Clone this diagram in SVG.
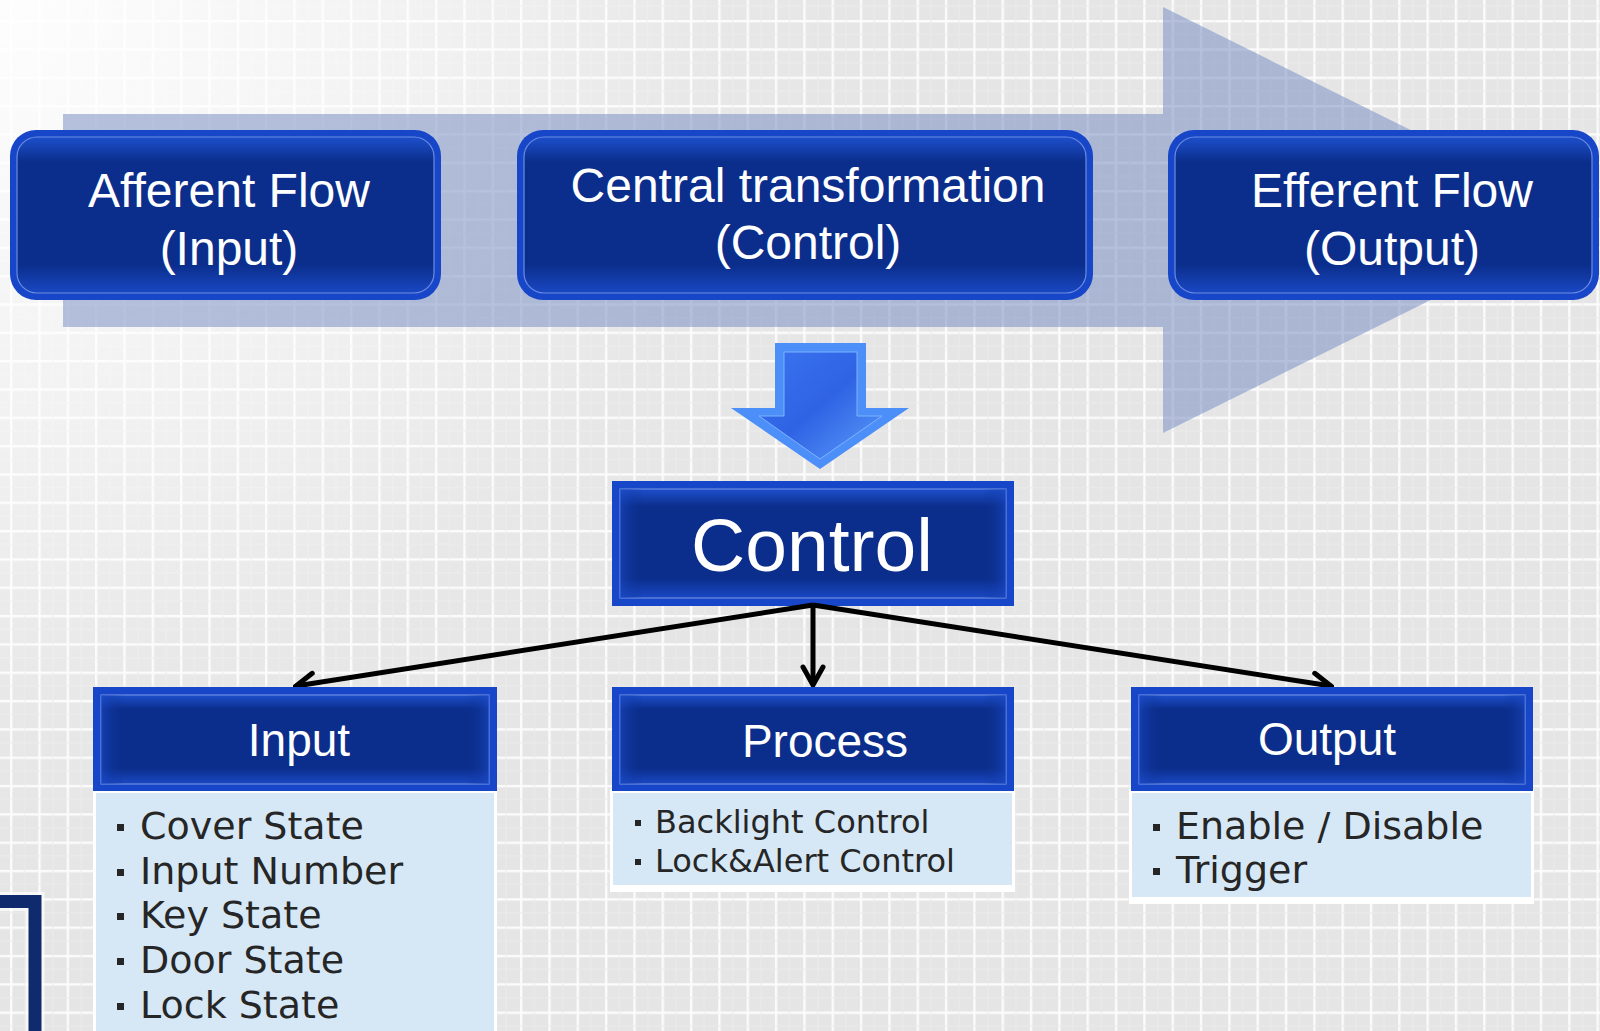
<svg xmlns="http://www.w3.org/2000/svg" width="1600" height="1031" viewBox="0 0 1600 1031">
<defs>
<style>
.rim{fill:#1846c8}
.inner{fill:url(#bev);stroke:#6b8de0;stroke-width:1.2}
.ttl{font-family:"Liberation Sans",Arial,sans-serif;fill:#ffffff;text-anchor:middle}
.big{font-size:48px}
.hdr{font-size:46px}
.lst{font-family:"DejaVu Sans",Verdana,sans-serif;fill:#262626}
.l37{font-size:38px}
.l31{font-size:32px}
.bul{fill:#262626}
.lframe{fill:#ffffff}
.lfill{fill:#d6e8f6}
.conn{fill:none;stroke:#000;stroke-width:5}
</style>
<pattern id="grid" width="28.33" height="28.33" patternUnits="userSpaceOnUse" x="10" y="20">
<rect width="28.33" height="28.33" fill="#e5e5e5"/>
<rect x="0" y="0" width="28.33" height="2.4" fill="#fbfbfb"/>
<rect x="0" y="0" width="2.4" height="28.33" fill="#fbfbfb"/>
<rect x="14" y="0" width="1" height="28.33" fill="#ececec"/>
<rect x="0" y="14" width="28.33" height="1" fill="#ececec"/>
</pattern>
<radialGradient id="glow" cx="0" cy="0" r="950" gradientUnits="userSpaceOnUse">
<stop offset="0" stop-color="#ffffff" stop-opacity="0.95"/>
<stop offset="0.35" stop-color="#ffffff" stop-opacity="0.6"/>
<stop offset="0.75" stop-color="#ffffff" stop-opacity="0.1"/>
<stop offset="1" stop-color="#ffffff" stop-opacity="0"/>
</radialGradient>
<linearGradient id="bev" x1="0" y1="0" x2="0" y2="1">
<stop offset="0" stop-color="#1d4fcc"/>
<stop offset="0.16" stop-color="#0b2e8c"/>
<stop offset="0.82" stop-color="#0b2e8c"/>
<stop offset="1" stop-color="#1a48c4"/>
</linearGradient>
<linearGradient id="side" x1="0" y1="0" x2="1" y2="0">
<stop offset="0" stop-color="#1b4ac8" stop-opacity="0.6"/>
<stop offset="0.06" stop-color="#0b2e8c" stop-opacity="0"/>
<stop offset="0.94" stop-color="#0b2e8c" stop-opacity="0"/>
<stop offset="1" stop-color="#1b4ac8" stop-opacity="0.6"/>
</linearGradient>
<linearGradient id="arr" x1="0" y1="0" x2="1" y2="1">
<stop offset="0" stop-color="#3a74f0"/>
<stop offset="0.5" stop-color="#2f63e4"/>
<stop offset="1" stop-color="#5a9cfa"/>
</linearGradient>
<marker id="open" viewBox="0 0 24 26" refX="21" refY="13" markerWidth="24" markerHeight="26" markerUnits="userSpaceOnUse" orient="auto">
<path d="M3,3 L21,13 L3,23" fill="none" stroke="#000" stroke-width="5" stroke-linecap="round" stroke-linejoin="miter"/>
</marker>
</defs>

<rect width="1600" height="1031" fill="url(#grid)"/>
<rect width="1600" height="1031" fill="url(#glow)"/>

<g id="flow-band">
<polygon points="63,114 1163,114 1163,7 1592,220 1163,433 1163,327 63,327" fill="#7b8fc4" fill-opacity="0.55"/>
</g>

<g id="afferent">
<rect class="rim" x="10" y="130" width="431" height="170" rx="26"/>
<rect class="inner" x="17" y="137" width="417" height="156" rx="20"/>
<text class="ttl big" x="229" y="207">Afferent Flow</text>
<text class="ttl big" x="229" y="265">(Input)</text>
</g>

<g id="central">
<rect class="rim" x="517" y="130" width="576" height="170" rx="26"/>
<rect class="inner" x="524" y="137" width="562" height="156" rx="20"/>
<text class="ttl big" x="808" y="202">Central transformation</text>
<text class="ttl big" x="808" y="259">(Control)</text>
</g>

<g id="efferent">
<rect class="rim" x="1168" y="130" width="431" height="170" rx="26"/>
<rect class="inner" x="1175" y="137" width="417" height="156" rx="20"/>
<text class="ttl big" x="1392" y="207">Efferent Flow</text>
<text class="ttl big" x="1392" y="265">(Output)</text>
</g>

<g id="down-arrow">
<polygon points="775,343 866,343 866,408 909,408 820,469 731,408 775,408" fill="#4d8ff8"/>
<polygon points="784,352 857,352 857,416 882,416 820,459 759,416 784,416" fill="url(#arr)" stroke="#7fb2ff" stroke-width="1"/>
</g>

<g id="control">
<rect class="rim" x="612" y="481" width="402" height="125"/>
<rect class="inner" x="620" y="489" width="386" height="109"/>
<rect x="620" y="489" width="386" height="109" fill="url(#side)"/>
<text class="ttl" x="812" y="571" font-size="75">Control</text>
</g>

<g id="connectors">
<line class="conn" x1="813" y1="605" x2="296" y2="686" marker-end="url(#open)"/>
<line class="conn" x1="813" y1="605" x2="813" y2="685" marker-end="url(#open)"/>
<line class="conn" x1="813" y1="605" x2="1331" y2="686" marker-end="url(#open)"/>
</g>

<g id="input">
<rect class="lframe" x="93" y="789" width="404" height="245"/>
<rect class="lfill" x="96" y="793" width="398" height="240"/>
<rect class="rim" x="93" y="687" width="404" height="104"/>
<rect class="inner" x="101" y="695" width="388" height="89"/>
<rect x="101" y="695" width="388" height="89" fill="url(#side)"/>
<text class="ttl hdr" x="299" y="756">Input</text>
<rect class="bul" x="117" y="824" width="7" height="7"/>
<rect class="bul" x="117" y="869" width="7" height="7"/>
<rect class="bul" x="117" y="913" width="7" height="7"/>
<rect class="bul" x="117" y="958" width="7" height="7"/>
<rect class="bul" x="117" y="1003" width="7" height="7"/>
<text class="lst l37" x="140" y="839">Cover State</text>
<text class="lst l37" x="140" y="884">Input Number</text>
<text class="lst l37" x="140" y="928">Key State</text>
<text class="lst l37" x="140" y="973">Door State</text>
<text class="lst l37" x="140" y="1018">Lock State</text>
</g>

<g id="process">
<rect class="lframe" x="610" y="789" width="405" height="103"/>
<rect class="lfill" x="613" y="793" width="399" height="92"/>
<rect class="rim" x="612" y="687" width="402" height="104"/>
<rect class="inner" x="620" y="695" width="386" height="89"/>
<rect x="620" y="695" width="386" height="89" fill="url(#side)"/>
<text class="ttl hdr" x="825" y="757">Process</text>
<rect class="bul" x="635" y="820" width="6" height="6"/>
<rect class="bul" x="635" y="859" width="6" height="6"/>
<text class="lst l31" x="655" y="833">Backlight Control</text>
<text class="lst l31" x="655" y="872">Lock&amp;Alert Control</text>
</g>

<g id="output">
<rect class="lframe" x="1129" y="789" width="405" height="115"/>
<rect class="lfill" x="1132" y="793" width="399" height="104"/>
<rect class="rim" x="1131" y="687" width="402" height="104"/>
<rect class="inner" x="1139" y="695" width="386" height="89"/>
<rect x="1139" y="695" width="386" height="89" fill="url(#side)"/>
<text class="ttl hdr" x="1327" y="755">Output</text>
<rect class="bul" x="1153" y="824" width="7" height="7"/>
<rect class="bul" x="1153" y="868" width="7" height="7"/>
<text class="lst l37" x="1176" y="839">Enable / Disable</text>
<text class="lst l37" x="1176" y="883">Trigger</text>
</g>

<g id="corner-shape">
<path d="M0,901.5 H35 V1031" fill="none" stroke="#ffffff" stroke-opacity="0.7" stroke-width="19"/>
<path d="M0,901.5 H35 V1031" fill="none" stroke="#0f2b6e" stroke-width="13"/>
</g>
</svg>
